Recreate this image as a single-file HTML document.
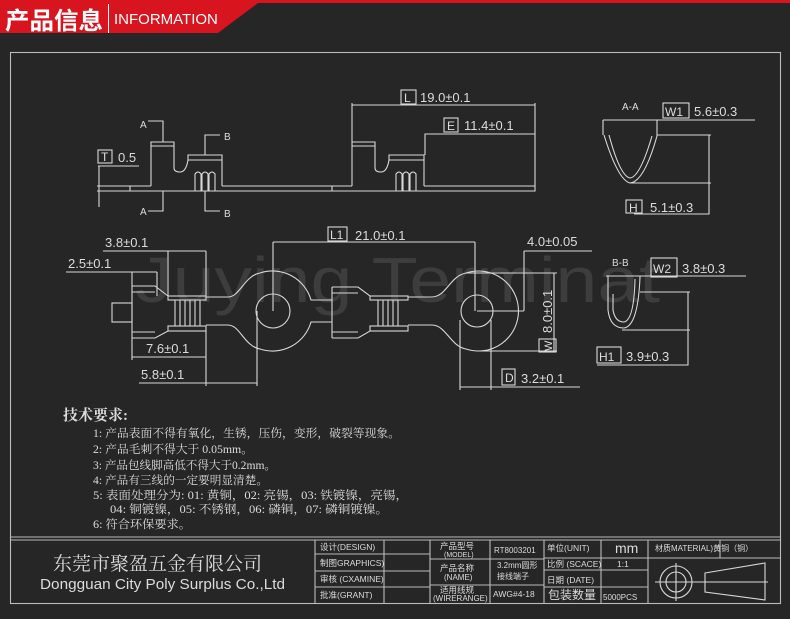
<!DOCTYPE html>
<html><head><meta charset="utf-8"><style>
html,body{margin:0;padding:0;background:#262626;}
svg{display:block;}
text{font-family:"Liberation Sans","Noto Sans CJK SC",sans-serif;fill:#dcdcdc;}
.s{font-family:"Liberation Serif","Noto Serif CJK SC",serif;}
</style></head><body>
<svg width="790" height="619" viewBox="0 0 790 619" xmlns="http://www.w3.org/2000/svg">
<rect width="790" height="619" fill="#262626"/>
<polygon points="0,0 790,0 790,3 258,3 218,33 0,33" fill="#d8141f"/>
<text x="5" y="29" font-size="24" font-weight="bold" style="fill:#fff" font-family="'Noto Sans CJK SC',sans-serif" textLength="98" lengthAdjust="spacingAndGlyphs">产品信息</text>
<line x1="108.5" y1="4" x2="108.5" y2="33" stroke="#fff" stroke-width="1"/>
<text x="114" y="24" font-size="15" style="fill:#fff">INFORMATION</text>

<text x="135" y="302" font-size="64" style="fill:#3d3d3d" textLength="525" lengthAdjust="spacingAndGlyphs">Juying Terminat</text>

<g fill="none" stroke="#d8d8d8" stroke-width="1.1">
<rect x="10.5" y="52.5" width="770" height="551" stroke="#bbb"/>
<line x1="10" y1="537" x2="781" y2="537" stroke="#bbb"/>
<line x1="10" y1="540" x2="781" y2="540" stroke="#bbb"/>

<path d="M130,186 H151 M130,191 H535 V186 H424 M130,186 V191 M332,186 V191 M222,186 H352"/>
<path d="M151,186 V142 H174 V168 Q174,172 180,172 Q186,172 188,160 V155 H222 V186 M151,146 H174 M188,160 H222"/>
<path d="M195,191 V174 Q198,170 201,174 V191 M202,191 V174 Q205,170 208,174 V191 M209,191 V174 Q212,170 215,174 V191"/>
<path d="M352,186 V142 H375 V168 Q375,172 381,172 Q387,172 389,160 V155 H424 V186 M352,146 H375 M389,160 H424"/>
<path d="M396,191 V174 Q399,170 402,174 V191 M403,191 V174 Q406,170 409,174 V191 M410,191 V174 Q413,170 416,174 V191"/>
<path d="M352,142 V103 M535,186 V103 M352,105 H535 M425,155 V134 H535"/>
<rect x="401" y="90" width="15" height="14"/><rect x="444" y="118" width="14" height="14"/>
<rect x="98" y="150" width="14" height="13"/>
<path d="M98,166 H139 M99,166 V207 M97,186 H130 M97,191 H130"/>
<path d="M148,121 H163 V142 M163,191 V211 H148 M220,135 H205 V155 M205,191 V211 H220"/>
<path d="M604,135 Q618,180 630,183 Q644,182 657,136 M609,135 Q620,176 630,178 Q640,177 652,136"/>
<path d="M603,120 H755 M603,120 V135 M657,120 V136 M657,135 H711 M630,183 H711 M709,135 V214 H634"/>
<rect x="663" y="103" width="26" height="15"/><rect x="626" y="200" width="16" height="13"/>

<rect x="112" y="303" width="20" height="19"/>
<path d="M132,286 H155 L168,296 H206 M132,338 H155 L168,331 H206 M132,286 V338 M132,292 H155 M132,332 H155"/>
<rect x="168" y="296" width="38" height="4"/><rect x="168" y="326" width="38" height="5"/>
<path d="M175,300 V326 M180,300 V326 M185,300 V326 M190,300 V326 M195,300 V326 M200,300 V326"/>
<path d="M206,297 H228 C240,297 244,276 260,273 A40,40 0 0 1 311,300 H332 M206,325 H228 C240,325 244,346 260,349 A40,40 0 0 0 311,322 H332"/>
<circle cx="273" cy="311" r="17"/>
<path d="M332,287 H358 L370,296 H408 M332,338 H358 L370,331 H408 M332,287 V338 M332,293 H358 M332,332 H358"/>
<rect x="370" y="296" width="38" height="4"/><rect x="370" y="326" width="38" height="5"/>
<path d="M378,300 V326 M383,300 V326 M388,300 V326 M393,300 V326 M398,300 V326"/>
<path d="M408,297 H432 C446,297 450,276 466,273 A40,40 0 1 1 466,349 C450,346 446,325 432,325 H408"/>
<circle cx="477" cy="311" r="16"/>
<path d="M103,251 H206 M168,251 V296 M206,251 V296 M66,272 H157 M132,272 V286 M157,272 V296"/>
<path d="M132,338 V360 M206,331 V386 M132,357 H206 M139,383 H257 M257,311 V386"/>
<path d="M273,242 H475 M273,242 V311 M475,242 V311 M477,311 H524 M524,251 V311 M524,251 H592 M466,273 H557 M554,273 V352 M477,351 H557"/>
<path d="M460,320 V390 M491,320 V390 M460,387 H580"/>
<rect x="328" y="227" width="19" height="14"/><rect x="502" y="369" width="13" height="16"/><rect x="539" y="339" width="17" height="13"/>
<path d="M608,292 V310 Q610,328 624,328 Q638,326 640,277 M613,294 V310 Q615,322 624,322 Q634,320 635,279"/>
<path d="M606,276 H746 M608,276 V292 M640,276 V277 M640,292 H690 M622,330 H690 M688,292 V365 H597"/>
<rect x="651" y="258" width="26" height="19"/><rect x="597" y="347" width="24" height="16"/>

<path d="M315,540 V603 M384,540 V603 M430,540 V603 M490,540 V603 M544,540 V603 M601,540 V603 M648,540 V603 M720,540 V558" stroke="#bbb"/>
<path d="M315,554 H430 M315,571 H430 M315,587 H430 M430,559 H544 M430,585 H544 M544,558 H648 M544,570 H648 M544,587 H648 M648,558 H781" stroke="#bbb"/>
<circle cx="676" cy="582" r="16"/><circle cx="676" cy="582" r="10"/>
<path d="M655,582 H768 M676,563 V601 M705,573 L765,563 V600 L705,592 Z"/>
</g>

<g font-size="13">
<text x="118" y="162">0.5</text>
<text x="101" y="161" font-size="12">T</text>
<text x="140" y="128" font-size="10">A</text>
<text x="140" y="215" font-size="10">A</text>
<text x="224" y="140" font-size="10">B</text>
<text x="224" y="217" font-size="10">B</text>
<text x="404" y="102" font-size="12">L</text><text x="420" y="102">19.0±0.1</text>
<text x="447" y="130" font-size="12">E</text><text x="464" y="130">11.4±0.1</text>
<text x="622" y="110" font-size="10">A-A</text>
<text x="665" y="116" font-size="12">W1</text><text x="694" y="116">5.6±0.3</text>
<text x="629" y="212" font-size="12">H</text><text x="650" y="212">5.1±0.3</text>
<text x="105" y="247">3.8±0.1</text>
<text x="68" y="268">2.5±0.1</text>
<text x="146" y="353">7.6±0.1</text>
<text x="141" y="379">5.8±0.1</text>
<text x="330" y="239" font-size="12">L1</text><text x="355" y="240">21.0±0.1</text>
<text x="527" y="246">4.0±0.05</text>
<text x="0" y="0" transform="translate(552,333) rotate(-90)">8.0±0.1</text>
<text x="0" y="0" font-size="11" transform="translate(552,351) rotate(-90)">W</text>
<text x="505" y="382" font-size="12">D</text><text x="521" y="383">3.2±0.1</text>
<text x="612" y="266" font-size="10">B-B</text>
<text x="653" y="273" font-size="12">W2</text><text x="682" y="273">3.8±0.3</text>
<text x="599" y="361" font-size="12">H1</text><text x="626" y="361">3.9±0.3</text>
</g>

<g>
<text x="63" y="420" font-size="15" font-weight="bold" class="s">技术要求:</text>
<g font-size="11.5">
<text x="93" y="437" class="s" textLength="307" lengthAdjust="spacingAndGlyphs">1: 产品表面不得有氧化，生锈，压伤，变形，破裂等现象。</text>
<text x="93" y="453" class="s" textLength="160" lengthAdjust="spacingAndGlyphs">2: 产品毛刺不得大于 0.05mm。</text>
<text x="93" y="469" class="s" textLength="183" lengthAdjust="spacingAndGlyphs">3: 产品包线脚高低不得大于0.2mm。</text>
<text x="93" y="484" class="s" textLength="175" lengthAdjust="spacingAndGlyphs">4: 产品有三线的一定要明显清楚。</text>
<text x="93" y="499" class="s" textLength="315" lengthAdjust="spacingAndGlyphs">5: 表面处理分为: 01: 黄铜，02: 亮锡，03: 铁镀镍，亮锡，</text>
<text x="110" y="513" class="s" textLength="278" lengthAdjust="spacingAndGlyphs">04: 铜镀镍，05: 不锈钢，06: 磷铜，07: 磷铜镀镍。</text>
<text x="93" y="528" class="s" textLength="98" lengthAdjust="spacingAndGlyphs">6: 符合环保要求。</text>
</g>
<text x="53" y="570" font-size="19" class="s" textLength="209" lengthAdjust="spacingAndGlyphs">东莞市聚盈五金有限公司</text>
</g>
<text x="40" y="589" font-size="15" textLength="245" lengthAdjust="spacingAndGlyphs">Dongguan City Poly Surplus Co.,Ltd</text>
<g font-size="8.5">
<text x="320" y="550">设计(DESIGN)</text>
<text x="320" y="566">制图GRAPHICS)</text>
<text x="320" y="582">审核 (CXAMINE)</text>
<text x="320" y="598">批准(GRANT)</text>
<text x="440" y="549">产品型号</text><text x="444" y="557" font-size="7">(MODEL)</text>
<text x="440" y="571">产品名称</text><text x="444" y="580" font-size="8">(NAME)</text>
<text x="440" y="593">适用线规</text><text x="433" y="601" font-size="8">(WIRERANGE)</text>
<text x="494" y="553" font-size="8">RT8003201</text>
<text x="497" y="568" font-size="8">3.2mm圆形</text>
<text x="497" y="579" font-size="8">接线端子</text>
<text x="493" y="597" font-size="8.5">AWG#4-18</text>
<text x="547" y="551">单位(UNIT)</text>
<text x="615" y="553" font-size="14">mm</text>
<text x="547" y="567">比例 (SCACE)</text>
<text x="617" y="567">1:1</text>
<text x="547" y="583">日期 (DATE)</text>
<text x="548" y="599" font-size="12">包装数量</text>
<text x="603" y="600" font-size="8">5000PCS</text>
<text x="655" y="551" font-size="8">材质MATERIAL)黄铜（铜）</text>
</g>
</svg>
</body></html>
